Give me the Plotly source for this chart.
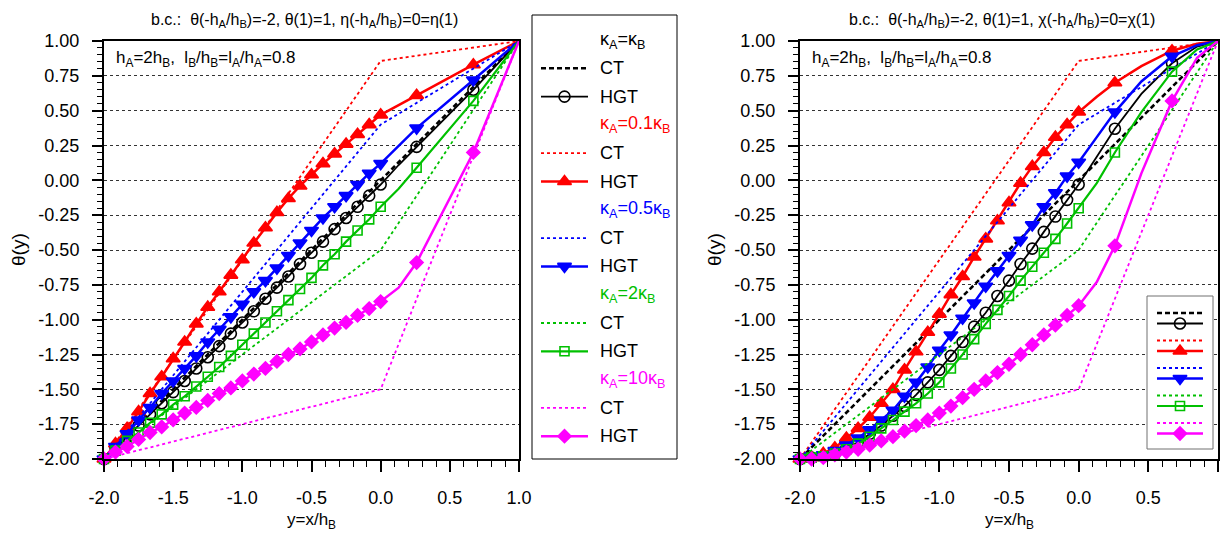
import plotly.graph_objects as go

FONT = "Liberation Sans, Arial, sans-serif"
W, H = 1227, 540

# ---------------------------------------------------------------- data
# Sample positions y = x/h_B in layer A (-h_A/h_B <= y <= 0), step 1/12
Y_A = [-2.0, -1.917, -1.833, -1.75, -1.667, -1.583, -1.5, -1.417, -1.333, -1.25,
       -1.167, -1.083, -1.0, -0.917, -0.833, -0.75, -0.667, -0.583, -0.5, -0.417,
       -0.333, -0.25, -0.167, -0.083, 0.0]
# Sample positions in layer B (0 <= y <= 1)
Y_B_ETA = [0.13, 0.26, 0.67, 1.0]
Y_B_CHI = [0.13, 0.26, 0.45, 0.67, 0.85, 1.0]
# Layer-B samples that carry a symbol
MARKED_B = [0.26, 0.67]

# Classical theory (CT): piecewise linear, kink at the interface y = 0
Y_CT = [-2.0, 0.0, 1.0]
CT_1 = [-2.0, 0.0, 1.0]
CT_01 = [-2.0, 0.857, 1.0]
CT_05 = [-2.0, 0.4, 1.0]
CT_2 = [-2.0, -0.5, 1.0]
CT_10 = [-2.0, -1.5, 1.0]

# Higher-gradient theory (HGT), b.c. eta(-hA/hB) = 0 = eta(1)
ETA_1 = [-2.0, -1.92, -1.84, -1.76, -1.68, -1.6, -1.52, -1.44, -1.35, -1.27,
         -1.19, -1.1, -1.02, -0.94, -0.85, -0.77, -0.69, -0.6, -0.52, -0.44,
         -0.35, -0.27, -0.19, -0.11, -0.03,
         0.11, 0.24, 0.65, 1.0]
ETA_01 = [-2.0, -1.89, -1.78, -1.66, -1.53, -1.41, -1.28, -1.16, -1.03, -0.91,
          -0.80, -0.68, -0.57, -0.45, -0.34, -0.23, -0.13, -0.04, 0.04, 0.12,
          0.19, 0.26, 0.33, 0.40, 0.47,
          0.54, 0.61, 0.83, 1.0]
ETA_05 = [-2.0, -1.91, -1.82, -1.72, -1.63, -1.53, -1.44, -1.35, -1.26, -1.16,
          -1.07, -0.98, -0.89, -0.80, -0.72, -0.63, -0.54, -0.45, -0.36, -0.27,
          -0.19, -0.11, -0.03, 0.05, 0.12,
          0.25, 0.375, 0.72, 1.0]
ETA_2 = [-2.0, -1.94, -1.87, -1.81, -1.74, -1.68, -1.61, -1.55, -1.48, -1.41,
         -1.34, -1.26, -1.18, -1.10, -1.02, -0.94, -0.86, -0.78, -0.70, -0.61,
         -0.53, -0.44, -0.36, -0.28, -0.19,
         -0.06, 0.09, 0.57, 1.0]
ETA_10 = [-2.0, -1.95, -1.91, -1.86, -1.81, -1.77, -1.72, -1.67, -1.63, -1.58,
          -1.53, -1.49, -1.44, -1.39, -1.35, -1.30, -1.25, -1.21, -1.16, -1.11,
          -1.06, -1.02, -0.97, -0.92, -0.87,
          -0.77, -0.59, 0.20, 1.0]

# Higher-gradient theory (HGT), b.c. chi(-hA/hB) = 0 = chi(1)
CHI_1 = [-2.0, -1.99, -1.98, -1.96, -1.92, -1.88, -1.82, -1.76, -1.69, -1.62,
         -1.54, -1.45, -1.36, -1.26, -1.16, -1.05, -0.95, -0.83, -0.72, -0.60,
         -0.49, -0.37, -0.26, -0.14, -0.03,
         0.17, 0.37, 0.62, 0.84, 0.96, 1.0]
CHI_01 = [-2.0, -1.99, -1.96, -1.92, -1.85, -1.78, -1.70, -1.60, -1.50, -1.36,
          -1.23, -1.09, -0.96, -0.82, -0.69, -0.55, -0.42, -0.29, -0.16, -0.02,
          0.10, 0.20, 0.31, 0.40, 0.49,
          0.60, 0.70, 0.82, 0.93, 0.98, 1.0]
CHI_05 = [-2.0, -1.99, -1.97, -1.94, -1.90, -1.85, -1.79, -1.72, -1.65, -1.55,
          -1.45, -1.34, -1.22, -1.11, -0.99, -0.88, -0.76, -0.65, -0.54, -0.43,
          -0.32, -0.19, -0.09, 0.03, 0.13,
          0.31, 0.49, 0.71, 0.89, 0.97, 1.0]
CHI_2 = [-2.0, -1.99, -1.98, -1.96, -1.93, -1.89, -1.84, -1.78, -1.72, -1.66,
         -1.60, -1.53, -1.45, -1.35, -1.25, -1.14, -1.03, -0.93, -0.83, -0.72,
         -0.62, -0.52, -0.42, -0.31, -0.20,
         -0.02, 0.20, 0.49, 0.78, 0.94, 1.0]
CHI_10 = [-2.0, -2.0, -1.99, -1.97, -1.95, -1.93, -1.90, -1.87, -1.84, -1.80,
          -1.76, -1.72, -1.67, -1.62, -1.56, -1.50, -1.44, -1.38, -1.32, -1.25,
          -1.18, -1.11, -1.04, -0.97, -0.90,
          -0.73, -0.47, 0.05, 0.57, 0.88, 1.0]

# Conductivity ratios (legend headers)
RATIO_LABELS = ["κ<sub>A</sub>=κ<sub>B</sub>", "κ<sub>A</sub>=0.1κ<sub>B</sub>",
                "κ<sub>A</sub>=0.5κ<sub>B</sub>", "κ<sub>A</sub>=2κ<sub>B</sub>",
                "κ<sub>A</sub>=10κ<sub>B</sub>"]
CT_SERIES = [CT_1, CT_01, CT_05, CT_2, CT_10]
ETA_SERIES = [ETA_1, ETA_01, ETA_05, ETA_2, ETA_10]
CHI_SERIES = [CHI_1, CHI_01, CHI_05, CHI_2, CHI_10]

X_TICKS = [-2.0, -1.5, -1.0, -0.5, 0.0, 0.5, 1.0]
X_TICK_TEXT = ["-2.0", "-1.5", "-1.0", "-0.5", "0.0", "0.5", "1.0"]
Y_TICKS = [1.0, 0.75, 0.5, 0.25, 0.0, -0.25, -0.5, -0.75, -1.0, -1.25, -1.5, -1.75, -2.0]
Y_TICK_TEXT = ["1.00", "0.75", "0.50", "0.25", "0.00", "-0.25", "-0.50", "-0.75",
               "-1.00", "-1.25", "-1.50", "-1.75", "-2.00"]

# ---------------------------------------------------------------- styles
COLORS = ["#000000", "#FF0000", "#0000FF", "#00C000", "#FF00FF"]
SYMBOLS = ["circle-open", "triangle-up", "triangle-down", "square-open", "diamond"]
MSIZES = [11, 12, 12, 9, 10]
HGT_WIDTH = [1.8, 2.5, 2.5, 2.2, 2.5]
CT_WIDTH = [2.6, 1.8, 1.8, 1.8, 1.8]
CT_DASH = ["5px,3px", "3px,3px", "3px,3px", "3px,3px", "3px,3px"]

# plot areas in pixels: left, right, top, bottom
PANEL_L = (104, 519)
PANEL_R = (800, 1218)
TOP, BOTTOM = 41, 459

fig = go.Figure()


def marker_style(i):
    return dict(symbol=SYMBOLS[i], size=MSIZES[i], color=COLORS[i],
                line=dict(color=COLORS[i], width=1.6))


def add_panel(xa, ya, hgt_series, y_b):
    xs = Y_A + y_b
    for i in range(5):
        fig.add_trace(go.Scatter(
            x=Y_CT, y=CT_SERIES[i], mode="lines", xaxis=xa, yaxis=ya,
            line=dict(color=COLORS[i], width=CT_WIDTH[i], dash=CT_DASH[i]),
            showlegend=False, hoverinfo="skip"))
        ys = hgt_series[i]
        fig.add_trace(go.Scatter(
            x=xs, y=ys, mode="lines", xaxis=xa, yaxis=ya,
            line=dict(color=COLORS[i], width=HGT_WIDTH[i]),
            showlegend=False, hoverinfo="skip"))
        keep = [k for k, x in enumerate(xs) if x <= 0 or x in MARKED_B]
        fig.add_trace(go.Scatter(
            x=[xs[k] for k in keep], y=[ys[k] for k in keep], mode="markers",
            xaxis=xa, yaxis=ya, marker=marker_style(i), cliponaxis=False,
            showlegend=False, hoverinfo="skip"))


add_panel("x", "y", ETA_SERIES, Y_B_ETA)
add_panel("x2", "y2", CHI_SERIES, Y_B_CHI)

# ---------------------------------------------------------------- legends
# overlay axes measured in pixels, used only for the legend keys
def key_line(x0, x1, y, i, dashed):
    if dashed:
        line = dict(color=COLORS[i], width=CT_WIDTH[i], dash=CT_DASH[i])
    else:
        line = dict(color=COLORS[i], width=HGT_WIDTH[i])
    fig.add_trace(go.Scatter(x=[x0, x1], y=[y, y], mode="lines", line=line,
                             xaxis="x3", yaxis="y3", showlegend=False,
                             hoverinfo="skip"))
    if not dashed:
        fig.add_trace(go.Scatter(x=[(x0 + x1) / 2], y=[y], mode="markers",
                                 marker=marker_style(i), xaxis="x3", yaxis="y3",
                                 showlegend=False, hoverinfo="skip"))


def key_box(x0, x1, y0, y1, edge):
    fig.add_trace(go.Scatter(x=[x0, x1, x1, x0, x0], y=[y0, y0, y1, y1, y0],
                             mode="lines", fill="toself", fillcolor="white",
                             line=dict(color=edge, width=1), xaxis="x3",
                             yaxis="y3", showlegend=False, hoverinfo="skip"))


annotations = []


def text(x, y, s, size=18, color="black", xanchor="left", angle=0):
    annotations.append(dict(x=x, y=y, xref="x3", yref="y3", text=s,
                            showarrow=False, xanchor=xanchor, yanchor="middle",
                            textangle=angle,
                            font=dict(family=FONT, size=size, color=color)))


# left legend: header + CT + HGT for each ratio
key_box(532, 677, 15, 459, "black")
row = 28.3
for i in range(5):
    y_head = 40 + row * 3 * i
    text(598, y_head, RATIO_LABELS[i], color=COLORS[i])
    key_line(541, 588, y_head + row, i, True)
    text(598, y_head + row, "CT")
    key_line(541, 588, y_head + 2 * row, i, False)
    text(598, y_head + 2 * row, "HGT")

# right legend: symbols only
key_box(1147, 1213, 296, 449, "#707070")
for i in range(5):
    y_ct = 313 + 27.5 * i
    key_line(1157, 1203, y_ct, i, True)
    key_line(1157, 1203, y_ct + 10.5, i, False)

# ---------------------------------------------------------------- text
for (x0, x1), chi in ((PANEL_L, False), (PANEL_R, True)):
    fld = "χ" if chi else "η"
    text((x0 + x1) / 2 - 7, 20,
         "b.c.:  θ(-h<sub>A</sub>/h<sub>B</sub>)=-2, θ(1)=1, "
         f"{fld}(-h<sub>A</sub>/h<sub>B</sub>)=0={fld}(1)",
         size=16, xanchor="center")
    text(x0 + 10, 59,
         "h<sub>A</sub>=2h<sub>B</sub>,  l<sub>B</sub>/h<sub>B</sub>"
         "=l<sub>A</sub>/h<sub>A</sub>=0.8", size=17)
    text((x0 + x1) / 2, 521, "y=x/h<sub>B</sub>", size=17, xanchor="center")
    text(x0 - 86, (TOP + BOTTOM) / 2, "θ(y)", size=19, xanchor="center",
         angle=-90)


# ---------------------------------------------------------------- axes
def xaxis(px, anchor):
    return dict(domain=[px[0] / W, px[1] / W], anchor=anchor, range=[-2, 1],
                tickmode="array", tickvals=X_TICKS, ticktext=X_TICK_TEXT,
                ticks="outside", ticklen=11, tickwidth=1.5, tickcolor="black",
                minor=dict(ticks="outside", ticklen=6, tickwidth=1,
                           tickcolor="black", tick0=-2, dtick=0.1),
                showline=True, linewidth=2, linecolor="black", mirror=True,
                showgrid=False, zeroline=False, automargin=False,
                ticklabelstandoff=10,
                tickfont=dict(family=FONT, size=18, color="black"),
                fixedrange=True)


def yaxis(anchor):
    return dict(domain=[(H - BOTTOM) / H, (H - TOP) / H], anchor=anchor,
                range=[-2, 1], tickmode="array", tickvals=Y_TICKS,
                ticktext=Y_TICK_TEXT, ticks="outside", ticklen=10,
                tickwidth=1.5, tickcolor="black",
                minor=dict(ticks="outside", ticklen=5, tickwidth=1,
                           tickcolor="black", tick0=-2, dtick=0.05),
                showline=True, linewidth=2, linecolor="black", mirror=True,
                showgrid=True, gridcolor="#333333", gridwidth=1,
                griddash="3px,3px", zeroline=False, automargin=False,
                ticklabelstandoff=9,
                tickfont=dict(family=FONT, size=18, color="black"),
                fixedrange=True)


fig.update_layout(
    width=W, height=H, autosize=False,
    margin=dict(l=0, r=0, t=0, b=0),
    paper_bgcolor="white", plot_bgcolor="rgba(0,0,0,0)",
    showlegend=False,
    xaxis=xaxis(PANEL_L, "y"), yaxis=yaxis("x"),
    xaxis2=xaxis(PANEL_R, "y2"), yaxis2=yaxis("x2"),
    xaxis3=dict(domain=[0, 1], range=[0, W], visible=False, fixedrange=True,
                anchor="y3"),
    yaxis3=dict(domain=[0, 1], range=[H, 0], visible=False, fixedrange=True,
                anchor="x3"),
    annotations=annotations,
)

fig.write_html("out.html", config={"displayModeBar": False})
